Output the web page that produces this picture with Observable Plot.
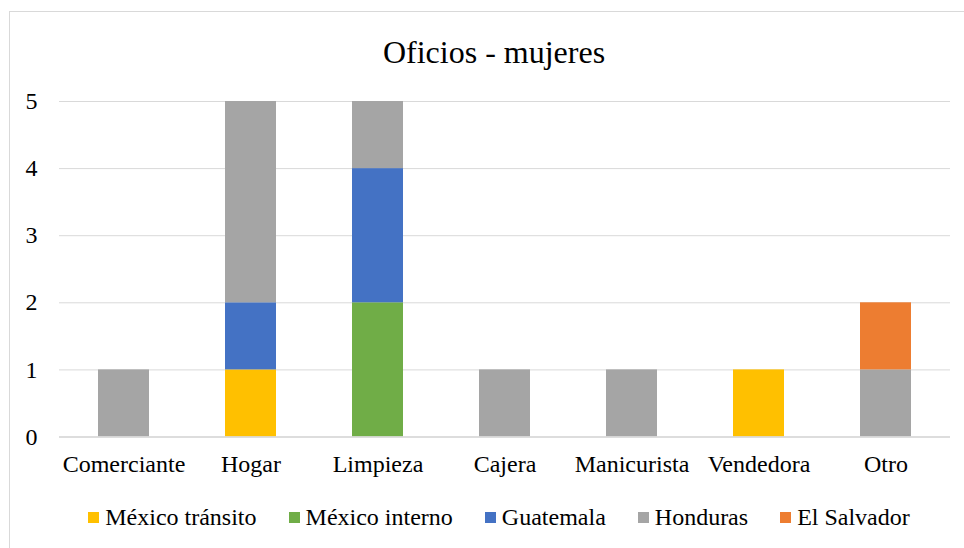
<!DOCTYPE html>
<html><head><meta charset="utf-8">
<script src="https://cdn.jsdelivr.net/npm/d3@7"></script>
<script src="https://cdn.jsdelivr.net/npm/@observablehq/plot@0.6"></script>
<style>
body{margin:0;background:#fff;font-family:"Liberation Serif","DejaVu Serif","Times New Roman",serif;}
#frame{position:absolute;left:9px;top:11px;width:1000px;height:600px;border:1px solid #d9d9d9;box-sizing:border-box;}
#title{position:absolute;left:0;top:30px;width:988px;text-align:center;font-size:32px;color:#000;line-height:44px;}
#chart{position:absolute;left:0;top:80px;}
#legend{position:absolute;left:0;top:502px;width:998px;display:flex;justify-content:center;gap:0;font-size:24px;line-height:30px;color:#000;}
.item{display:flex;align-items:center;margin:0 16px;}
.sw{width:11px;height:11px;margin-right:6px;}
</style></head>
<body>
<div id="frame"></div>
<div id="title">Oficios - mujeres</div>
<div id="chart"></div>
<div id="legend"></div>
<script>
const categories = ["Comerciante","Hogar","Limpieza","Cajera","Manicurista","Vendedora","Otro"];
const seriesNames = ["México tránsito","México interno","Guatemala","Honduras","El Salvador"];
const seriesColors = ["#FFC000","#70AD47","#4472C4","#A5A5A5","#ED7D31"];
const mexicoTransito = [0,1,0,0,0,1,0];
const mexicoInterno  = [0,0,2,0,0,0,0];
const guatemala      = [0,1,2,0,0,0,0];
const honduras       = [1,3,1,1,1,0,1];
const elSalvador     = [0,0,0,0,0,0,1];
const yTicks = [0,1,2,3,4,5];

const seriesValues = [mexicoTransito, mexicoInterno, guatemala, honduras, elSalvador];
const data = [];
seriesNames.forEach((s,si)=>categories.forEach((c,ci)=>{
  data.push({cat:c, series:s, value:seriesValues[si][ci]});
}));

const plot = Plot.plot({
  width: 964,
  height: 420,
  marginLeft: 59,
  marginRight: 14,
  marginTop: 21,
  marginBottom: 63.5,
  style:{fontFamily:'"Liberation Serif","DejaVu Serif","Times New Roman",serif', fontSize:"24px", color:"#000", background:"transparent"},
  x:{domain:categories, paddingInner:0.6, paddingOuter:0.3, label:null, tickSize:0, tickPadding:18},
  y:{domain:[0,5], ticks:yTicks, label:null, tickSize:0, tickPadding:22, tickFormat:d3.format("d")},
  color:{domain:seriesNames, range:seriesColors},
  marks:[
    Plot.gridY(yTicks, {stroke:"#d9d9d9", strokeOpacity:1, strokeWidth:1}),
    Plot.barY(data, Plot.stackY({x:"cat", y:"value", fill:"series", order:seriesNames})),
    Plot.ruleY([0], {stroke:"#d9d9d9", strokeWidth:1.5})
  ]
});
document.getElementById("chart").appendChild(plot);

const lg = document.getElementById("legend");
seriesNames.forEach((s,i)=>{
  const it = document.createElement("div"); it.className="item";
  const sw = document.createElement("span"); sw.className="sw"; sw.style.background=seriesColors[i];
  const tx = document.createElement("span"); tx.textContent=s;
  it.appendChild(sw); it.appendChild(tx); lg.appendChild(it);
});
</script>
</body></html>
